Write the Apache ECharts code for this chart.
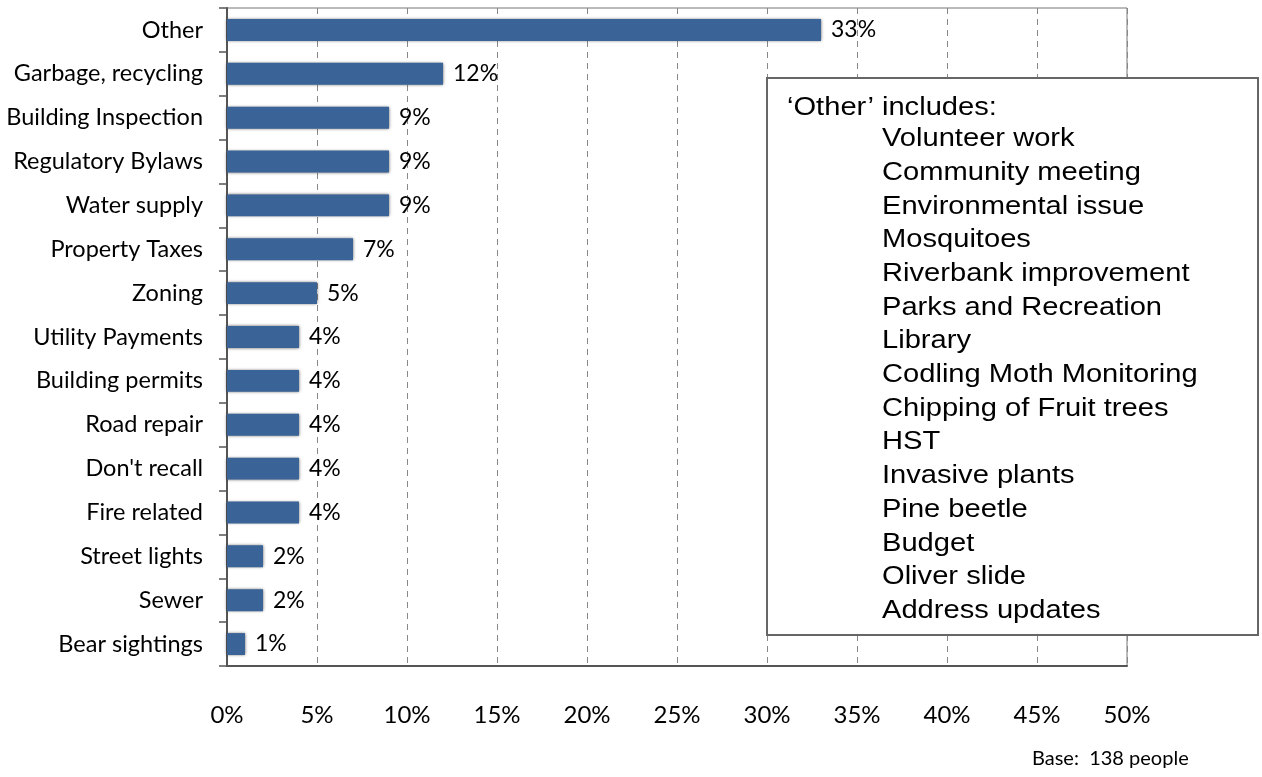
<!DOCTYPE html>
<html>
<head>
<meta charset="utf-8">
<script src="https://cdn.jsdelivr.net/npm/echarts@6/dist/echarts.min.js"></script>
<style>
  html, body { margin: 0; padding: 0; background: #fff; }
  #chart { width: 1262px; height: 777px; }
</style>
</head>
<body>
<div id="chart"></div>
<script>
// topics people contacted the city about (top to bottom)
const categories = [
  'Other', 'Garbage, recycling', 'Building Inspection', 'Regulatory Bylaws',
  'Water supply', 'Property Taxes', 'Zoning', 'Utility Payments',
  'Building permits', 'Road repair', "Don't recall", 'Fire related',
  'Street lights', 'Sewer', 'Bear sightings'
];
const percents = [33, 12, 9, 9, 9, 7, 5, 4, 4, 4, 4, 4, 2, 2, 1];

const otherTitle = '\u2018Other\u2019 includes:';
const otherItems = [
  'Volunteer work', 'Community meeting', 'Environmental issue', 'Mosquitoes',
  'Riverbank improvement', 'Parks and Recreation', 'Library',
  'Codling Moth Monitoring', 'Chipping of Fruit trees', 'HST',
  'Invasive plants', 'Pine beetle', 'Budget', 'Oliver slide', 'Address updates'
];
const baseNote = 'Base:  138 people';

const chart = echarts.init(document.getElementById('chart'));

// text inside the "Other" box, slightly widened like the original
const boxFont = '26px "Liberation Sans", Arial';
const boxTextEl = (text, x, y) => ({
  type: 'text', x: x, y: y, scaleX: 1.12, z: 11,
  style: { text: text, x: 0, y: 0, font: boxFont, fill: '#000', textVerticalAlign: 'middle' }
});
const lineH = 33.7;
const boxText = [boxTextEl(otherTitle, 787, 108)]
  .concat(otherItems.map((t, i) => boxTextEl(t, 882, 139 + lineH * i)));

chart.setOption({
  animation: false,
  grid: {
    left: 227, right: 135, top: 8, bottom: 111,
    show: true, borderColor: '#777', borderWidth: 1
  },
  xAxis: {
    type: 'value', min: 0, max: 50, interval: 5,
    axisLine: { show: true, lineStyle: { color: '#555', width: 2 } },
    axisTick: { show: false },
    axisLabel: { formatter: '{value}%', fontFamily: 'Lato', fontSize: 24, color: '#000', margin: 37 },
    splitLine: { show: true, lineStyle: { color: '#888', type: [6, 5], width: 1 } }
  },
  yAxis: {
    type: 'category', data: categories, inverse: true,
    axisLine: { show: true, lineStyle: { color: '#555', width: 2 } },
    axisTick: { show: true, length: 8, lineStyle: { color: '#555', width: 1.5 } },
    axisLabel: { fontFamily: 'Lato', fontSize: 23.5, color: '#000', margin: 24, padding: [2, 0, 0, 0] }
  },
  series: [{
    type: 'bar', data: percents, barWidth: '50%',
    itemStyle: {
      color: '#3a6397',
      shadowColor: 'rgba(50,50,50,0.8)', shadowBlur: 3
    },
    label: {
      show: true, position: 'right', distance: 10,
      formatter: '{c}%', fontFamily: 'Lato', fontSize: 23, color: '#000'
    }
  }],
  graphic: [
    { type: 'rect', left: 766, top: 77, z: 10,
      shape: { width: 491, height: 557 },
      style: { fill: '#fff', stroke: '#666', lineWidth: 2 } },
    { type: 'text', left: 1032, top: 749,
      style: { text: baseNote, font: '20px Lato', fill: '#000' } }
  ].concat(boxText)
});

window.addEventListener('resize', () => chart.resize());
</script>
</body>
</html>
